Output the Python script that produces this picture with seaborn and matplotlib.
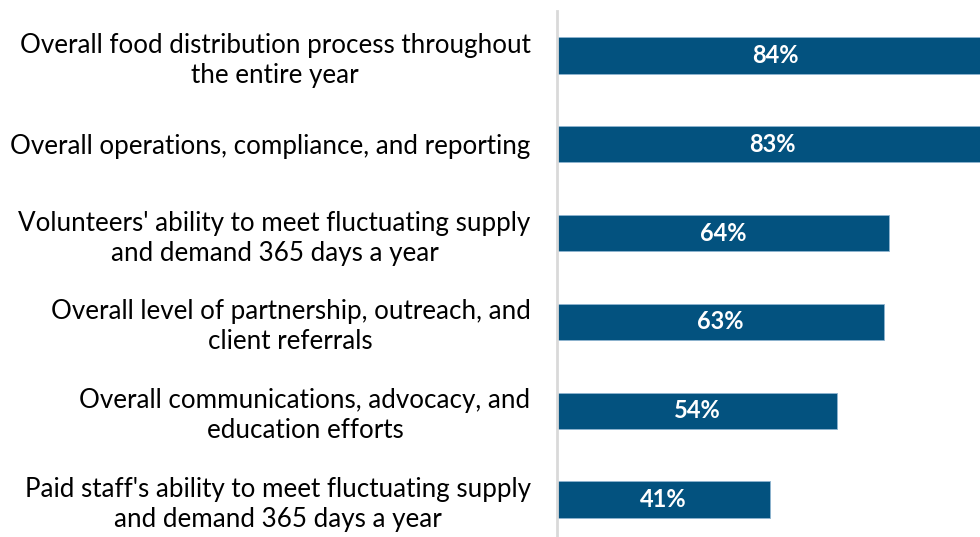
import pandas as pd
import seaborn as sns
import matplotlib.pyplot as plt

categories = [
    "Overall food distribution process throughout\nthe entire year",
    "Overall operations, compliance, and reporting",
    "Volunteers' ability to meet fluctuating supply\nand demand 365 days a year",
    "Overall level of partnership, outreach, and\nclient referrals",
    "Overall communications, advocacy, and\neducation efforts",
    "Paid staff's ability to meet fluctuating supply\nand demand 365 days a year",
]
values = [84, 83, 64, 63, 54, 41]
value_labels = ["84%", "83%", "64%", "63%", "54%", "41%"]

df = pd.DataFrame({'Item': categories, 'Percent': values})

sns.set_style('white')
plt.rcParams['font.family'] = ['Lato', 'DejaVu Sans']

fig = plt.figure(figsize=(9.8, 5.37), dpi=100)
ax = fig.add_axes([557 / 980, 0, 423 / 980, 526 / 537])

sns.barplot(x='Percent', y='Item', data=df, orient='h', color='#03527f',
            width=0.41, edgecolor='#8fb4d0', linewidth=0.6, ax=ax, saturation=1)

# value labels in the middle of each bar
for i, (v, lab) in enumerate(zip(values, value_labels)):
    ax.text(v / 2, i, lab, ha='center', va='center', color='white',
            fontsize=17, fontweight='bold')

ax.set_xlim(0, 81.5)
ax.set_ylim(5.42, -0.5)
ax.set_xlabel('')
ax.set_ylabel('')
ax.set_xticks([])
ax.tick_params(axis='y', length=0, pad=19, labelsize=18.7, colors='black')
for lbl in ax.get_yticklabels():
    lbl.set_multialignment('center')
    lbl.set_linespacing(1.25)

for side in ['top', 'right', 'bottom']:
    ax.spines[side].set_visible(False)
ax.spines['left'].set_color('#d9d9d9')
ax.spines['left'].set_linewidth(2)

fig.savefig('out.png', dpi=100)
